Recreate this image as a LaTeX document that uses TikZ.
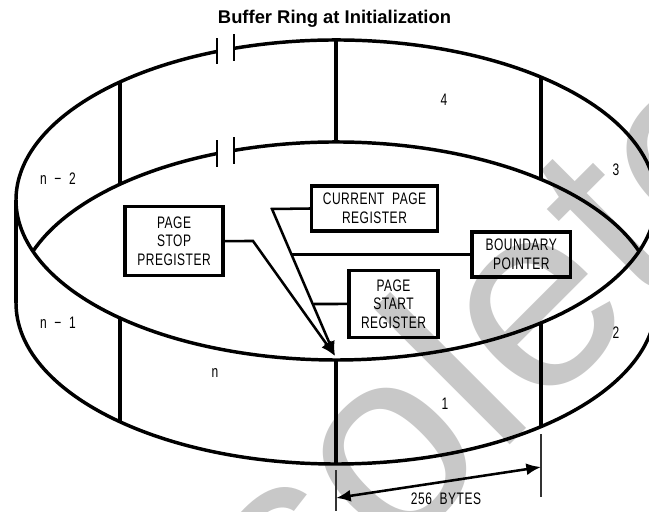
\documentclass[tikz,border=0pt]{standalone}
\usepackage{xcolor}
\usepackage{fontspec}
\setmainfont{Liberation Sans}
\newfontfamily\cadfont[FakeStretch=0.72,LetterSpace=3,WordSpace=2]{Liberation Sans}
\usetikzlibrary{positioning,arrows.meta}
\definecolor{stampgray}{RGB}{200,200,200}
\tikzstyle{register}=[rectangle, draw=black, line width=2.6pt, text centered, align=center,
        font=\cadfont\fontsize{12.5}{14}\selectfont, inner sep=0pt]
\tikzstyle{rim}=[line width=2.6pt]
\tikzstyle{wall}=[line width=2.6pt]
\tikzstyle{tick}=[line width=2.2pt]
\tikzstyle{pointer}=[line width=1.9pt]
\tikzstyle{extent}=[line width=1pt, draw=black!80]
\tikzstyle{slot}=[font=\cadfont\fontsize{12.5}{14}\selectfont, inner sep=0pt]

\begin{document}
\begin{tikzpicture}[x=0.75pt, y=-0.75pt]
        \path[use as bounding box, clip] (0,0) rectangle (649,511);
        \node (Stamp) [anchor=base west, rotate=45, inner sep=0pt, text=stampgray,
          font=\fontsize{199}{199}\selectfont] at (48.5,906.5) {Obsolete};
        \node (Title) [font=\bfseries\fontsize{13.8}{16}\selectfont] at (334.5,19) {Buffer Ring at Initialization};

        \draw[rim] (16,200) arc[start angle=180, end angle=248.2, x radius=320, y radius=160];
        \draw[rim] (336,200) ++(251.4:320 and 160) arc[start angle=251.4, end angle=540, x radius=320, y radius=160];
        \draw[rim] (16,303) arc[start angle=180, end angle=0, x radius=320, y radius=161];
        \draw[rim] (336,303) ++(198.7:320 and 161) arc[start angle=198.7, end angle=248.2, x radius=320, y radius=161];
        \draw[rim] (336,303) ++(251.4:320 and 161) arc[start angle=251.4, end angle=341.3, x radius=320, y radius=161];

        \draw[wall] (16,200) -- (16,303);
        \draw[wall] (120,81) -- (120,184);
        \draw[wall] (336,40) -- (336,142);
        \draw[wall] (541,78) -- (541,180);
        \draw[wall] (120,319) -- (120,422);
        \draw[wall] (336,360) -- (336,465);
        \draw[wall] (541,322) -- (541,426);

        \draw[tick] (217,38) -- (217,64);
        \draw[tick] (234,34) -- (234,61);
        \draw[tick] (217,140) -- (217,167);
        \draw[tick] (234,137) -- (234,164);

        \node (Current) [register, minimum width=94.5pt, minimum height=34pt] at (374.5,208.5) {CURRENT PAGE\\REGISTER};
        \node (Stop) [register, minimum width=73.5pt, minimum height=51.5pt, left=63.75pt of Current, yshift=-24.4pt] {PAGE\\STOP\\PREGISTER};
        \node (Boundary) [register, minimum width=74pt, minimum height=34pt, right=23.25pt of Current, yshift=-34.5pt] {BOUNDARY\\POINTER};
        \node (Start) [register, minimum width=67pt, minimum height=50pt, below=27pt of Current, xshift=14.25pt] {PAGE\\START\\REGISTER};

        \coordinate (Tip) at (335,356);
        \coordinate (CurrentBend) at (272,209);
        \coordinate (StopBend) at (253,241);
        \coordinate (BoundaryJoin) at (292,254.5);
        \coordinate (StartJoin) at (314,304);

        \draw[pointer, -{Latex[length=11pt,width=9pt]}] (Current.west) -- (CurrentBend) -- (Tip);
        \draw[pointer, -{Latex[length=11pt,width=9pt]}] (Stop.east) -- (StopBend) -- (Tip);
        \draw[pointer] (Boundary.west) -- (BoundaryJoin);
        \draw[pointer] (Start.west) -- (StartJoin);

        \coordinate (LeftFoot) at (336,470);
        \coordinate (LeftEnd) at (336,511);
        \coordinate (RightFoot) at (541,434);
        \coordinate (RightEnd) at (541,497);
        \coordinate (SpanLeft) at (336,498);
        \coordinate (SpanRight) at (541,467);
        \draw[extent] (LeftFoot) -- (LeftEnd);
        \draw[extent] (RightFoot) -- (RightEnd);
        \draw[pointer, {Latex[length=11pt,width=9pt]}-{Latex[length=11pt,width=9pt]}] (SpanLeft) -- (SpanRight);
        \node (Span) [slot] at (446,499) {256 BYTES};

        \node (Four) [slot] at (444,100) {4};
        \node (Three) [slot] at (616,170) {3};
        \node (Two) [slot] at (616,333) {2};
        \node (One) [slot] at (445,404) {1};
        \node (LastN) [slot] at (215,373) {n};
        \node (LastOne) [slot] at (58,323) {n − 1};
        \node (LastTwo) [slot] at (58,179) {n − 2};
      \end{tikzpicture}
\end{document}
